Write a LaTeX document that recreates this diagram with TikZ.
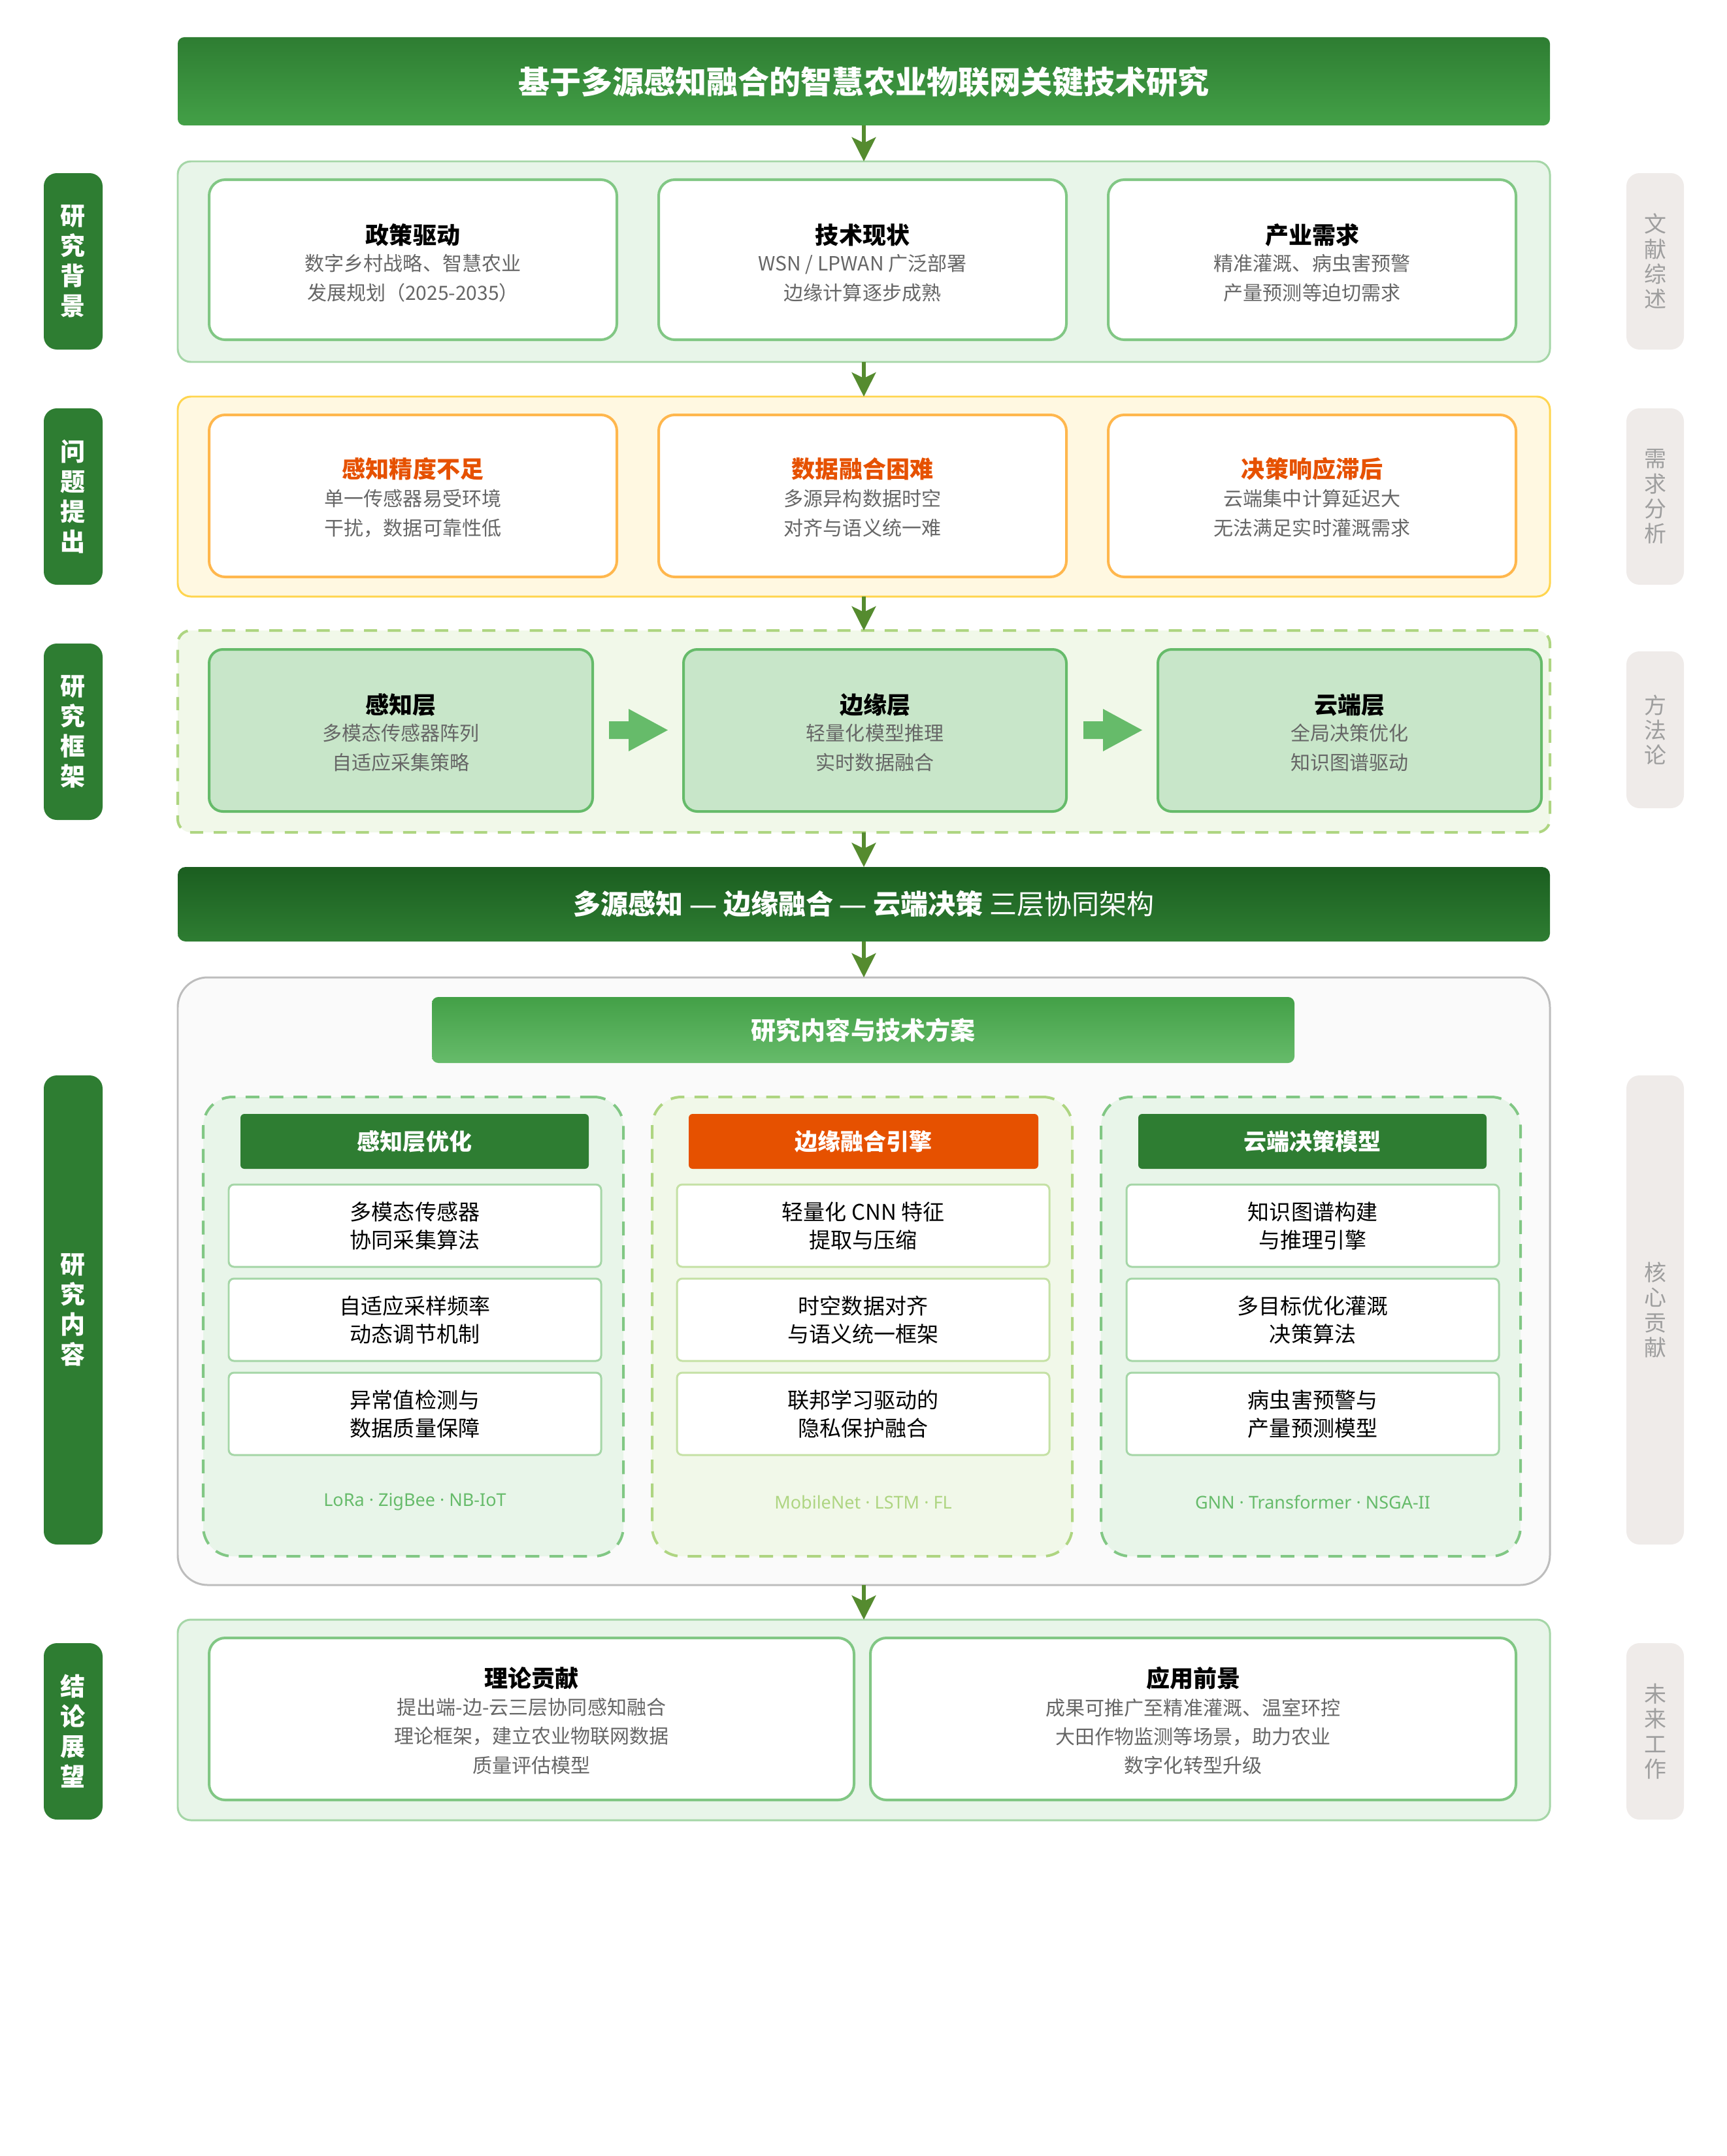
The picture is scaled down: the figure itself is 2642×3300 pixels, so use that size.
\documentclass[tikz,border=0pt]{standalone}
\usepackage{fontspec}
\setmainfont{Noto Sans CJK SC}
\newfontfamily\latinfont{Noto Sans}
\usetikzlibrary{arrows.meta,fit,calc}
\definecolor{gDark}{HTML}{2E7D32}
\definecolor{gDeep}{HTML}{1B5E20}
\definecolor{gMid}{HTML}{43A047}
\definecolor{gLight}{HTML}{66BB6A}
\definecolor{gPale}{HTML}{E8F5E9}
\definecolor{gBorder}{HTML}{A5D6A7}
\definecolor{gCard}{HTML}{81C784}
\definecolor{gFill}{HTML}{C8E6C9}
\definecolor{lime}{HTML}{AED581}
\definecolor{limePale}{HTML}{F1F8E9}
\definecolor{limeItem}{HTML}{C5E1A5}
\definecolor{yPale}{HTML}{FFF8E1}
\definecolor{yBorder}{HTML}{FFD54F}
\definecolor{oBorder}{HTML}{FFB74D}
\definecolor{oDeep}{HTML}{E65100}
\definecolor{arrowG}{HTML}{558B2F}
\definecolor{subGrey}{HTML}{666666}
\definecolor{sideFill}{HTML}{EFEBE9}
\definecolor{sideText}{HTML}{9E9E9E}
\definecolor{panelGrey}{HTML}{FAFAFA}
\definecolor{panelBorder}{HTML}{BDBDBD}
\newcommand\emd{{\latinfont\char"2014}}
\newcommand\mdot{{\latinfont\char"00B7}}
\begin{document}
\begin{tikzpicture}[x=0.01cm,y=-0.01cm,
  every node/.style={inner sep=0pt,outer sep=0pt},
  secpanel/.style={draw=gBorder,fill=gPale,line width=0.85pt,rounded corners=5.7pt},
  ypanel/.style={draw=yBorder,fill=yPale,line width=0.85pt,rounded corners=5.7pt},
  dpanel/.style={draw=lime,fill=limePale,line width=1.14pt,rounded corners=5.7pt,dash pattern=on 5.7pt off 4.6pt},
  wcard/.style={draw=gCard,fill=white,line width=1.14pt,rounded corners=7pt},
  ocard/.style={draw=oBorder,fill=white,line width=1.14pt,rounded corners=7pt},
  fcard/.style={draw=gLight,fill=gFill,line width=1.14pt,rounded corners=6pt},
  lefttag/.style={fill=gDark,rounded corners=5.7pt},
  righttag/.style={fill=sideFill,rounded corners=5.7pt},
  lefttxt/.style={font=\fontsize{10.81pt}{13.09pt}\selectfont\bfseries,text=white,align=center},
  righttxt/.style={font=\fontsize{9.67pt}{10.9pt}\selectfont,text=sideText,align=center},
  ctitle/.style={font=\fontsize{10.24pt}{12pt}\selectfont\bfseries,text=black},
  otitle/.style={font=\fontsize{10.24pt}{12pt}\selectfont\bfseries,text=oDeep},
  csub/.style={font=\fontsize{8.54pt}{12.8pt}\selectfont,text=subGrey,align=center},
  csubb/.style={font=\fontsize{8.54pt}{12.52pt}\selectfont,text=subGrey,align=center},
  arr/.style={draw=arrowG,line width=1.5pt,-{Stealth[length=10.5pt,width=10.5pt,inset=2.5pt]}},
  blockarr/.style={fill=gLight},
  colpanel/.style={draw=gCard,fill=gPale,line width=1.14pt,rounded corners=12.8pt,dash pattern=on 6pt off 4.4pt},
  colpanelb/.style={draw=lime,fill=limePale,line width=1.14pt,rounded corners=12.8pt,dash pattern=on 6pt off 4.4pt},
  colhead/.style={rounded corners=1.7pt},
  colheadtxt/.style={font=\fontsize{9.96pt}{12pt}\selectfont\bfseries,text=white},
  item/.style={draw=gBorder,fill=white,line width=0.85pt,rounded corners=2.3pt},
  itemb/.style={draw=limeItem,fill=white,line width=0.85pt,rounded corners=2.3pt},
  itemtxt/.style={font=\fontsize{9.39pt}{12.23pt}\selectfont,text=black,align=center},
  foot/.style={font=\latinfont\fontsize{7.68pt}{10pt}\selectfont}
]
\useasboundingbox (0,0) rectangle (2642,3300);

% ---------- title ----------
\node[fit={(272,57)(2372,192)},top color=gDark,bottom color=gMid,rounded corners=2.8pt] (title) {};
\node[font=\fontsize{13.66pt}{16pt}\selectfont\bfseries,text=white] (titletxt) at (1322,125) {基于多源感知融合的智慧农业物联网关键技术研究};

% ---------- section 1 ----------
\node[secpanel,fit={(272,247)(2372,554)}] (sec1) {};
\node[wcard,fit={(320,275)(944,520)}] (c11) {};
\node[wcard,fit={(1008,275)(1632,520)}] (c12) {};
\node[wcard,fit={(1696,275)(2320,520)}] (c13) {};
\node[ctitle] (t11) at (632,360) {政策驱动};
\node[csub] (s11) at (632,425.5) {数字乡村战略、智慧农业\\发展规划（2025-2035）};
\node[ctitle] (t12) at (1320,360) {技术现状};
\node[csub] (s12) at (1320,425.5) {WSN / LPWAN 广泛部署\\边缘计算逐步成熟};
\node[ctitle] (t13) at (2008,360) {产业需求};
\node[csub] (s13) at (2008,425.5) {精准灌溉、病虫害预警\\产量预测等迫切需求};

% ---------- section 2 ----------
\node[ypanel,fit={(272,607)(2372,913)}] (sec2) {};
\node[ocard,fit={(320,635)(944,883)}] (c21) {};
\node[ocard,fit={(1008,635)(1632,883)}] (c22) {};
\node[ocard,fit={(1696,635)(2320,883)}] (c23) {};
\node[otitle] (t21) at (632,718) {感知精度不足};
\node[csub] (s21) at (632,785.5) {单一传感器易受环境\\干扰，数据可靠性低};
\node[otitle] (t22) at (1320,718) {数据融合困难};
\node[csub] (s22) at (1320,785.5) {多源异构数据时空\\对齐与语义统一难};
\node[otitle] (t23) at (2008,718) {决策响应滞后};
\node[csub] (s23) at (2008,785.5) {云端集中计算延迟大\\无法满足实时灌溉需求};

% ---------- section 3 ----------
\node[dpanel,fit={(272,965)(2372,1274)}] (sec3) {};
\node[fcard,fit={(320,994)(907,1242)}] (c31) {};
\node[fcard,fit={(1046,994)(1632,1242)}] (c32) {};
\node[fcard,fit={(1772,994)(2359,1242)}] (c33) {};
\node[ctitle] (t31) at (613.5,1079) {感知层};
\node[csub] (s31) at (613.5,1144.5) {多模态传感器阵列\\自适应采集策略};
\node[ctitle] (t32) at (1339,1079) {边缘层};
\node[csub] (s32) at (1339,1144.5) {轻量化模型推理\\实时数据融合};
\node[ctitle] (t33) at (2065.5,1079) {云端层};
\node[csub] (s33) at (2065.5,1144.5) {全局决策优化\\知识图谱驱动};
\fill[blockarr] (932,1104) -- (962,1104) -- (962,1085) -- (1022,1117.5) -- (962,1150) -- (962,1131) -- (932,1131) -- cycle;
\fill[blockarr] (1658,1104) -- (1688,1104) -- (1688,1085) -- (1748,1117.5) -- (1688,1150) -- (1688,1131) -- (1658,1131) -- cycle;

% ---------- bar 4 ----------
\node[fit={(272,1327)(2372,1441)},top color=gDeep,bottom color=gDark,rounded corners=3.4pt] (bar4) {};
\node[font=\fontsize{11.95pt}{14pt}\selectfont,text=white] (bar4txt) at (1322,1384) {\textbf{多源感知 \emd\ 边缘融合 \emd\ 云端决策} 三层协同架构};

% ---------- panel 4 ----------
\node[fit={(272,1496)(2372,2426)},draw=panelBorder,fill=panelGrey,line width=0.85pt,rounded corners=13pt] (sec4) {};
\node[fit={(661,1526)(1981,1627)},top color=gMid,bottom color=gLight,rounded corners=2.8pt] (head4) {};
\node[font=\fontsize{10.81pt}{13pt}\selectfont\bfseries,text=white] (head4txt) at (1321,1577) {研究内容与技术方案};

\node[colpanel,fit={(311,1679)(954,2382)}] (col1) {};
\node[colpanelb,fit={(998,1679)(1641,2382)}] (col2) {};
\node[colpanel,fit={(1685,1679)(2327,2382)}] (col3) {};

\node[colhead,fill=gDark,fit={(368,1705)(901,1789)}] (h1) {};
\node[colhead,fill=oDeep,fit={(1054,1705)(1589,1789)}] (h2) {};
\node[colhead,fill=gDark,fit={(1742,1705)(2275,1789)}] (h3) {};
\node[colheadtxt] (h1t) at (634.5,1747) {感知层优化};
\node[colheadtxt] (h2t) at (1321.5,1747) {边缘融合引擎};
\node[colheadtxt] (h3t) at (2008.5,1747) {云端决策模型};

% items col1
\node[item,fit={(350,1813)(920,1939)}] (i11) {};
\node[item,fit={(350,1957)(920,2083)}] (i12) {};
\node[item,fit={(350,2101)(920,2227)}] (i13) {};
\node[itemtxt] (i11t) at (635,1876) {多模态传感器\\协同采集算法};
\node[itemtxt] (i12t) at (635,2020) {自适应采样频率\\动态调节机制};
\node[itemtxt] (i13t) at (635,2164) {异常值检测与\\数据质量保障};
% items col2
\node[itemb,fit={(1036,1813)(1606,1939)}] (i21) {};
\node[itemb,fit={(1036,1957)(1606,2083)}] (i22) {};
\node[itemb,fit={(1036,2101)(1606,2227)}] (i23) {};
\node[itemtxt] (i21t) at (1321,1876) {轻量化 CNN 特征\\提取与压缩};
\node[itemtxt] (i22t) at (1321,2020) {时空数据对齐\\与语义统一框架};
\node[itemtxt] (i23t) at (1321,2164) {联邦学习驱动的\\隐私保护融合};
% items col3
\node[item,fit={(1724,1813)(2294,1939)}] (i31) {};
\node[item,fit={(1724,1957)(2294,2083)}] (i32) {};
\node[item,fit={(1724,2101)(2294,2227)}] (i33) {};
\node[itemtxt] (i31t) at (2009,1876) {知识图谱构建\\与推理引擎};
\node[itemtxt] (i32t) at (2009,2020) {多目标优化灌溉\\决策算法};
\node[itemtxt] (i33t) at (2009,2164) {病虫害预警与\\产量预测模型};
% footers
\node[foot,text=gLight] (f1) at (635,2299) {LoRa · ZigBee · NB-IoT};
\node[foot,text=lime] (f2) at (1321,2299) {MobileNet · LSTM · FL};
\node[foot,text=gLight] (f3) at (2009,2299) {GNN · Transformer · NSGA-II};

% ---------- section 5 ----------
\node[secpanel,fit={(272,2479)(2372,2786)}] (sec5) {};
\node[wcard,fit={(320,2507)(1307,2755)}] (c51) {};
\node[wcard,fit={(1332,2507)(2320,2755)}] (c52) {};
\node[ctitle] (t51) at (813.5,2569) {理论贡献};
\node[csubb] (s51) at (813.5,2657.5) {提出端-边-云三层协同感知融合\\理论框架，建立农业物联网数据\\质量评估模型};
\node[ctitle] (t52) at (1826,2569) {应用前景};
\node[csubb] (s52) at (1826,2657.5) {成果可推广至精准灌溉、温室环控\\大田作物监测等场景，助力农业\\数字化转型升级};

% ---------- side tags ----------
\node[lefttag,fit={(67,265)(157,535)}] (L1) {};
\node[lefttxt] (L1t) at (112,400) {研\\究\\背\\景};
\node[lefttag,fit={(67,625)(157,895)}] (L2) {};
\node[lefttxt] (L2t) at (112,760) {问\\题\\提\\出};
\node[lefttag,fit={(67,985)(157,1255)}] (L3) {};
\node[lefttxt] (L3t) at (112,1120) {研\\究\\框\\架};
\node[lefttag,fit={(67,1646)(157,2364)}] (L4) {};
\node[lefttxt] (L4t) at (112,2005) {研\\究\\内\\容};
\node[lefttag,fit={(67,2515)(157,2785)}] (L5) {};
\node[lefttxt] (L5t) at (112,2650) {结\\论\\展\\望};

\node[righttag,fit={(2489,265)(2577,535)}] (R1) {};
\node[righttxt] (R1t) at (2533,400) {文\\献\\综\\述};
\node[righttag,fit={(2489,625)(2577,895)}] (R2) {};
\node[righttxt] (R2t) at (2533,760) {需\\求\\分\\析};
\node[righttag,fit={(2489,997)(2577,1237)}] (R3) {};
\node[righttxt] (R3t) at (2533,1117) {方\\法\\论};
\node[righttag,fit={(2489,1646)(2577,2364)}] (R4) {};
\node[righttxt] (R4t) at (2533,2005) {核\\心\\贡\\献};
\node[righttag,fit={(2489,2515)(2577,2785)}] (R5) {};
\node[righttxt] (R5t) at (2533,2650) {未\\来\\工\\作};

% ---------- connectors ----------
\draw[arr] (title.south) -- (sec1.north);
\draw[arr] (sec1.south) -- (sec2.north);
\draw[arr] (sec2.south) -- (sec3.north);
\draw[arr] (sec3.south) -- (bar4.north);
\draw[arr] (bar4.south) -- (sec4.north);
\draw[arr] (sec4.south) -- (sec5.north);
\end{tikzpicture}
\end{document}
